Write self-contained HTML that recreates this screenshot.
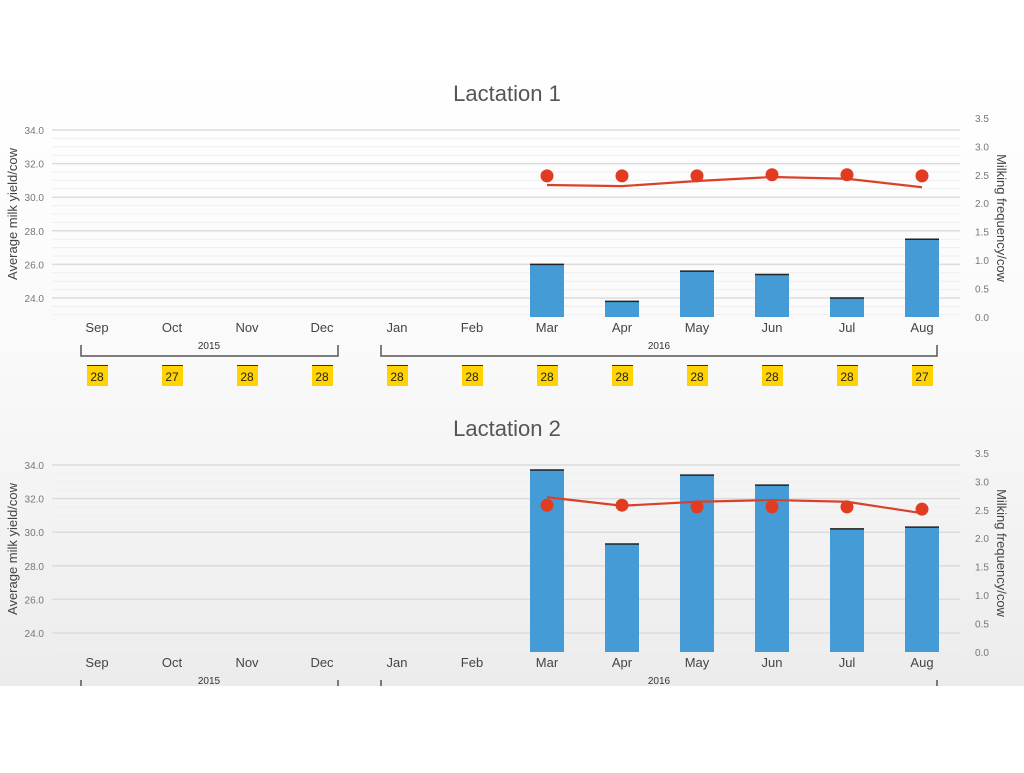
<!DOCTYPE html>
<html><head><meta charset="utf-8"><style>
body{margin:0;width:1024px;height:768px;overflow:hidden;background:#fff;font-family:"Liberation Sans",sans-serif}
</style></head><body>
<svg id="c" width="1024" height="768" xmlns="http://www.w3.org/2000/svg">
<defs><linearGradient id="bg" x1="0" y1="0" x2="0" y2="1">
<stop offset="0" stop-color="#ffffff"/><stop offset="0.45" stop-color="#fafafa"/><stop offset="1" stop-color="#ececec"/></linearGradient></defs>
<rect x="0" y="60" width="1024" height="626" fill="url(#bg)"/>
<g id="g"></g>
</svg>
<script>
const months=["Sep","Oct","Nov","Dec","Jan","Feb","Mar","Apr","May","Jun","Jul","Aug"];
const days=["28","27","28","28","28","28","28","28","28","28","28","27"];
const leftTicks=["24.0","26.0","28.0","30.0","32.0","34.0"];
const rightTicks=["0.0","0.5","1.0","1.5","2.0","2.5","3.0","3.5"];
const l1Yield=[null,null,null,null,null,null,26.0,23.8,25.6,25.4,24.0,27.5];
const l1Freq=[null,null,null,null,null,null,2.48,2.48,2.48,2.50,2.50,2.48];
const l1Trend=[null,null,null,null,null,null,2.32,2.30,2.39,2.46,2.43,2.28];
const l2Yield=[null,null,null,null,null,null,33.7,29.3,33.4,32.8,30.2,30.3];
const l2Freq=[null,null,null,null,null,null,2.58,2.58,2.55,2.55,2.55,2.51];
const l2Trend=[null,null,null,null,null,null,2.72,2.57,2.64,2.67,2.64,2.44];

const NS="http://www.w3.org/2000/svg";
const G=document.getElementById('g');
function mk(t,a,txt){const e=document.createElementNS(NS,t);for(const k in a)e.setAttribute(k,a[k]);if(txt!==undefined)e.textContent=txt;G.appendChild(e);return e;}
const xOf=i=>97+i*75;

function chart(off,title,yld,freq,trend,showDays,n){
  const yL=v=>130+off+(34-v)*16.8;
  const yR=v=>317+off-v*56.9;
  const bottom=317+off;
  let e=mk('text',{x:507,y:101+off,'text-anchor':'middle','font-size':22,fill:'#555'},title);
  
  for(let v=23;v<=34;v+=0.5){
    const major=Math.abs(v%2)<0.01;
    e=mk('line',{x1:52,x2:960,y1:yL(v),y2:yL(v),stroke:major?'#dcdcdc':'#efefef','stroke-width':major?1.5:1});
    
  }
  leftTicks.forEach(t=>{e=mk('text',{x:44,y:yL(+t)+4,'text-anchor':'end','font-size':10,fill:'#777'},t);
    });
  rightTicks.forEach(t=>{e=mk('text',{x:975,y:yR(+t)+4,'font-size':10,fill:'#777'},t);
    });
  e=mk('text',{transform:`translate(17,${214+off}) rotate(-90)`,'text-anchor':'middle','font-size':13,fill:'#444'},'Average milk yield/cow');
  
  e=mk('text',{transform:`translate(997,${218+off}) rotate(90)`,'text-anchor':'middle','font-size':13,fill:'#444'},'Milking frequency/cow');
  
  yld.forEach((v,i)=>{if(v==null)return;
    e=mk('rect',{x:xOf(i)-17,y:yL(v),width:34,height:bottom-yL(v),fill:'#449bd6'});
    
    e=mk('line',{x1:xOf(i)-17,x2:xOf(i)+17,y1:yL(v),y2:yL(v),stroke:'#222','stroke-width':1.5});
    
  });
  let pts=[];trend.forEach((v,i)=>{if(v!=null)pts.push(xOf(i)+','+yR(v));});
  e=mk('polyline',{points:pts.join(' '),fill:'none',stroke:'#d9412a','stroke-width':2.2});
  
  freq.forEach((v,i)=>{if(v==null)return;
    e=mk('circle',{cx:xOf(i),cy:yR(v),r:6.5,fill:'#e13c22'});
    
  });
  months.forEach((m,i)=>{e=mk('text',{x:xOf(i),y:332+off,'text-anchor':'middle','font-size':13,fill:'#444'},m);
    });
  [[81,338,209,'2015'],[381,937,659,'2016']].forEach(b=>{
    e=mk('path',{d:`M${b[0]},${345+off}V${356+off}H${b[1]}V${345+off}`,fill:'none',stroke:'#555','stroke-width':1.5});
    
    e=mk('text',{x:b[2],y:349+off,'text-anchor':'middle','font-size':10,fill:'#333'},b[3]);
    
  });
  if(showDays){days.forEach((d,i)=>{
    e=mk('rect',{x:xOf(i)-10,y:365+off,width:21,height:21,fill:'#ffd200'});
    
    e=mk('line',{x1:xOf(i)-10,x2:xOf(i)+11,y1:365.5+off,y2:365.5+off,stroke:'#333'});
    
    e=mk('text',{x:xOf(i),y:381+off,'text-anchor':'middle','font-size':12,fill:'#222'},d);
    
  });}
}
chart(0,'Lactation 1',l1Yield,l1Freq,l1Trend,true,1);
chart(335,'Lactation 2',l2Yield,l2Freq,l2Trend,false,2);
const w=mk('rect',{x:0,y:686,width:1024,height:82,fill:'#fff'});


</script>
</body></html>
